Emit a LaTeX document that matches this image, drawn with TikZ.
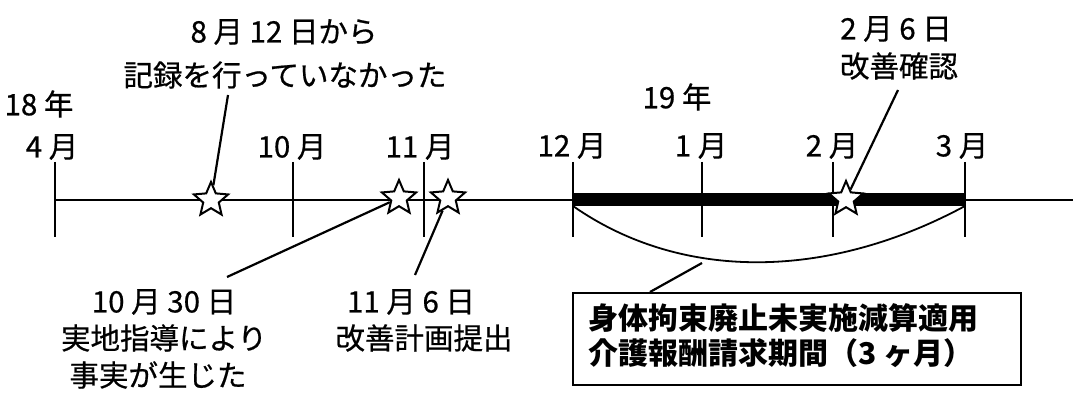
\documentclass[tikz,border=0pt]{standalone}
\usepackage{fontspec}
\setmainfont{Noto Sans CJK JP}
\newfontfamily\jpmed[FakeBold=0.6]{Noto Sans CJK JP}
\usetikzlibrary{shapes.geometric}
\tikzset{
  lbl/.style={font=\fontsize{29.5}{32}\selectfont\jpmed, inner sep=0pt},
  boxlbl/.style={font=\fontsize{30}{32}\selectfont\bfseries, inner sep=0pt, anchor=west},
  tickline/.style={line width=2pt},
  axisline/.style={line width=1.8pt},
  leader/.style={line width=2.2pt},
  evstar/.style={star, star points=5, star point ratio=2.2, minimum size=36pt, draw, fill=white, line width=2pt, inner sep=0pt},
}
\begin{document}
\begin{tikzpicture}[x=1pt,y=-1pt]
\useasboundingbox (0,0) rectangle (1073,398);
% axis
\coordinate (a0) at (55,200);
\coordinate (a1) at (1073,200);
\draw[axisline] (a0) -- (a1);
\fill (573,193.5) rectangle (965,206.5);
\foreach \x in {55,293,424,573,702,833,965} \draw[tickline] (\x,162) -- (\x,237);
% month labels
\node[lbl] (m4) at (52,147) {4 月};
\node[lbl] (m10) at (292,147) {10 月};
\node[lbl] (m11) at (420,147) {11 月};
\node[lbl] (m12) at (572,146) {12 月};
\node[lbl] (m1) at (701,146) {1 月};
\node[lbl] (m2) at (832,146) {2 月};
\node[lbl] (m3) at (962,146) {3 月};
\node[lbl] (y18) at (39,104) {18 年};
\node[lbl] (y19) at (677,97) {19 年};
% curve
\coordinate (c0) at (573,206);
\coordinate (c1) at (965,206);
\draw[line width=1.8pt] (c0) .. controls (680,281) and (826,281) .. (c1);
% stars
\node[evstar] (s1) at (211,200) {};
\node[evstar] (s2) at (399,198) {};
\node[evstar] (s3) at (448,198) {};
\node[evstar] (s4) at (846,199) {};
% annotations
\node[lbl] (t1a) at (284,32) {8 月 12 日から};
\node[lbl] (t1b) at (285,75) {記録を行っていなかった};
\node[lbl] (t4a) at (896,29) {2 月 6 日};
\node[lbl] (t4b) at (899,66) {改善確認};
\node[lbl] (t2a) at (164,302) {10 月 30 日};
\node[lbl] (t2b) at (164,338) {実地指導により};
\node[lbl] (t2c) at (158,375) {事実が生じた};
\node[lbl] (t3a) at (411,302) {11 月 6 日};
\node[lbl] (t3b) at (424,338) {改善計画提出};
% leaders
\coordinate (e1) at (228,95);
\coordinate (e2) at (227,277);
\coordinate (e3) at (415,275);
\coordinate (e4) at (898,90);
\draw[leader] (e1) -- (s1);
\draw[leader] (e2) -- (s2);
\draw[leader] (e3) -- (s3);
\draw[leader] (e4) -- (s4);
% box
\node[draw, line width=1.8pt, minimum width=448pt, minimum height=92pt, anchor=north west, inner sep=0pt] (box) at (572,292) {};
\node[boxlbl] (b1) at (588,318) {身体拘束廃止未実施減算適用};
\node[boxlbl] (b2) at (588,353) {介護報酬請求期間（3 ヶ月）};
\coordinate (cv) at (702,263);
\coordinate (bx) at (650,292);
\draw[leader] (cv) -- (bx);
\end{tikzpicture}
\end{document}
